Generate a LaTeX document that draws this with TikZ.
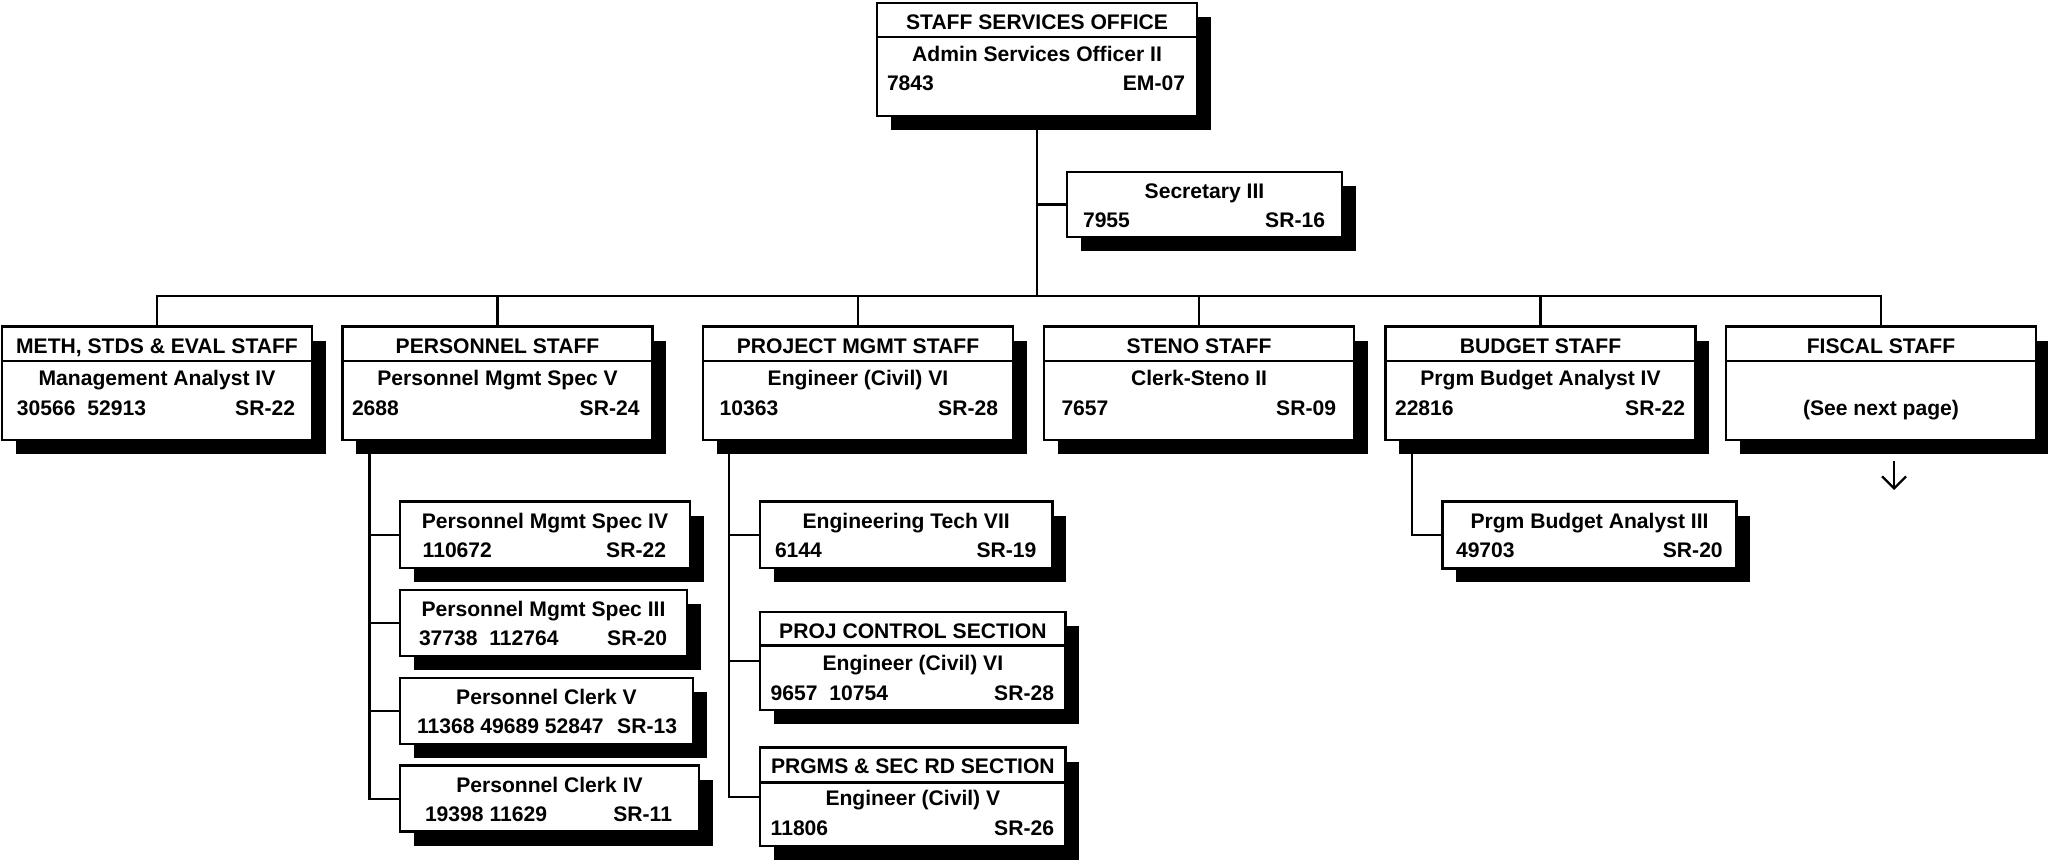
\documentclass[tikz,border=0pt]{standalone}
\usepackage{fontspec}
\setmainfont{Liberation Sans}
\usetikzlibrary{calc,shadows,arrows.meta}
\begin{document}
\begin{tikzpicture}[x=0.5pt,y=-0.5pt,
  box/.style={draw, line width=1.25pt, fill=white, inner sep=0pt, outer sep=0pt, anchor=north west,
     drop shadow={shadow xshift=6.75pt, shadow yshift=-7pt, opacity=1, fill=black}},
  txt/.style={font=\fontsize{10.55pt}{12pt}\selectfont\bfseries, inner sep=0pt, outer sep=0pt},
  ctr/.style={txt, anchor=base},
  lft/.style={txt, anchor=base west},
  rgt/.style={txt, anchor=base east},
  link/.style={line width=1.15pt},
  rule/.style={line width=1.25pt},
  hbox/.style={box, minimum width=155pt, minimum height=56.75pt},
]
\useasboundingbox (0,0) rectangle (2048,862);

% ---------- top ----------
\node[box, minimum width=160pt, minimum height=56.5pt] (top) at (877,3) {};
\draw[rule] ($(top.north west)+(0,34)$) -- ($(top.north east)+(0,34)$);
\node[ctr] (topH) at ($(top.north)+(0,26.5)$) {STAFF SERVICES OFFICE};
\node[ctr] (topT) at ($(top.north)+(0,58.3)$) {Admin Services Officer II};
\node[lft] (topL) at ($(top.north west)+(10,87.5)$) {7843};
\node[rgt] (topR) at ($(top.north east)+(-12,87.5)$) {EM-07};

\node[box, minimum width=137.5pt, minimum height=32.5pt] (sec) at (1067,172) {};
\node[ctr] (secT) at ($(sec.north)+(0,26)$) {Secretary III};
\node[lft] (secL) at ($(sec.north west)+(16,55)$) {7955};
\node[rgt] (secR) at ($(sec.north east)+(-17,55)$) {SR-16};

% ---------- row ----------
\node[hbox] (b1) at (2,326.5) {};
\node[hbox] (b2) at (342.5,326.5) {};
\node[hbox] (b3) at (703,326.5) {};
\node[hbox] (b4) at (1044,326.5) {};
\node[hbox] (b5) at (1385.5,326.5) {};
\node[hbox] (b6) at (1726,326.5) {};
\foreach \b in {b1,b2,b3,b4,b5,b6}
  \draw[rule] ($(\b.north west)+(0,34.5)$) -- ($(\b.north east)+(0,34.5)$);

\node[ctr] (b1H) at ($(b1.north)+(0,26.5)$) {METH, STDS \& EVAL STAFF};
\node[ctr] (b1T) at ($(b1.north)+(0,58.5)$) {Management Analyst IV};
\node[lft] (b1L) at ($(b1.north west)+(15,88.5)$) {30566\ \ 52913};
\node[rgt] (b1R) at ($(b1.north east)+(-17,88.5)$) {SR-22};

\node[ctr] (b2H) at ($(b2.north)+(0,26.5)$) {PERSONNEL STAFF};
\node[ctr] (b2T) at ($(b2.north)+(0,58.5)$) {Personnel Mgmt Spec V};
\node[lft] (b2L) at ($(b2.north west)+(9.5,88.5)$) {2688};
\node[rgt] (b2R) at ($(b2.north east)+(-13,88.5)$) {SR-24};

\node[ctr] (b3H) at ($(b3.north)+(0,26.5)$) {PROJECT MGMT STAFF};
\node[ctr] (b3T) at ($(b3.north)+(0,58.5)$) {Engineer (Civil) VI};
\node[lft] (b3L) at ($(b3.north west)+(16.6,88.5)$) {10363};
\node[rgt] (b3R) at ($(b3.north east)+(-15,88.5)$) {SR-28};

\node[ctr] (b4H) at ($(b4.north)+(0,26.5)$) {STENO STAFF};
\node[ctr] (b4T) at ($(b4.north)+(0,58.5)$) {Clerk-Steno II};
\node[lft] (b4L) at ($(b4.north west)+(17.5,88.5)$) {7657};
\node[rgt] (b4R) at ($(b4.north east)+(-18,88.5)$) {SR-09};

\node[ctr] (b5H) at ($(b5.north)+(0,26.5)$) {BUDGET STAFF};
\node[ctr] (b5T) at ($(b5.north)+(0,58.5)$) {Prgm Budget Analyst IV};
\node[lft] (b5L) at ($(b5.north west)+(9.5,88.5)$) {22816};
\node[rgt] (b5R) at ($(b5.north east)+(-10.5,88.5)$) {SR-22};

\node[ctr] (b6H) at ($(b6.north)+(0,26.5)$) {FISCAL STAFF};
\node[ctr] (b6T) at ($(b6.north)+(0,88.5)$) {(See next page)};

% ---------- personnel subs ----------
\node[box, minimum width=145pt, minimum height=33.15pt] (p1) at (400,501.7) {};
\node[ctr] (p1T) at ($(p1.north)+(0,26.6)$) {Personnel Mgmt Spec IV};
\node[lft] (p1L) at ($(p1.north west)+(22.7,55.6)$) {110672};
\node[rgt] (p1R) at ($(p1.north east)+(-24,55.6)$) {SR-22};

\node[box, minimum width=143.5pt, minimum height=33pt] (p2) at (400,590) {};
\node[ctr] (p2T) at ($(p2.north)+(0,26.6)$) {Personnel Mgmt Spec III};
\node[lft] (p2L) at ($(p2.north west)+(19,55.6)$) {37738\ \ 112764};
\node[rgt] (p2R) at ($(p2.north east)+(-20,55.6)$) {SR-20};

\node[box, minimum width=146.5pt, minimum height=33pt] (p3) at (400,678) {};
\node[ctr] (p3T) at ($(p3.north)+(0,26.6)$) {Personnel Clerk V};
\node[lft] (p3L) at ($(p3.north west)+(17,55.6)$) {11368 49689 52847};
\node[rgt] (p3R) at ($(p3.north east)+(-16,55.6)$) {SR-13};

\node[box, minimum width=149.5pt, minimum height=33pt] (p4) at (400,765.7) {};
\node[ctr] (p4T) at ($(p4.north)+(0,26.6)$) {Personnel Clerk IV};
\node[lft] (p4L) at ($(p4.north west)+(25,55.6)$) {19398 11629};
\node[rgt] (p4R) at ($(p4.north east)+(-27,55.6)$) {SR-11};

% ---------- project subs ----------
\node[box, minimum width=146.15pt, minimum height=33.15pt] (e1) at (760,501.7) {};
\node[ctr] (e1T) at ($(e1.north)+(0,26.6)$) {Engineering Tech VII};
\node[lft] (e1L) at ($(e1.north west)+(15,55.6)$) {6144};
\node[rgt] (e1R) at ($(e1.north east)+(-16,55.6)$) {SR-19};

\node[box, minimum width=152.85pt, minimum height=49pt] (e2) at (760,612) {};
\draw[rule] ($(e2.north west)+(0,33.7)$) -- ($(e2.north east)+(0,33.7)$);
\node[ctr] (e2H) at ($(e2.north)+(0,26.3)$) {PROJ CONTROL SECTION};
\node[ctr] (e2T) at ($(e2.north)+(0,58)$) {Engineer (Civil) VI};
\node[lft] (e2L) at ($(e2.north west)+(10.7,88)$) {9657\ \ 10754};
\node[rgt] (e2R) at ($(e2.north east)+(-11.7,88)$) {SR-28};

\node[box, minimum width=152.85pt, minimum height=49.15pt] (e3) at (760,747.7) {};
\draw[rule] ($(e3.north west)+(0,34.6)$) -- ($(e3.north east)+(0,34.6)$);
\node[ctr] (e3H) at ($(e3.north)+(0,25.6)$) {PRGMS \& SEC RD SECTION};
\node[ctr] (e3T) at ($(e3.north)+(0,58)$) {Engineer (Civil) V};
\node[lft] (e3L) at ($(e3.north west)+(10.7,88)$) {11806};
\node[rgt] (e3R) at ($(e3.north east)+(-11.7,88)$) {SR-26};

% ---------- budget sub ----------
\node[box, minimum width=147.2pt, minimum height=33.3pt] (g1) at (1442.3,501.7) {};
\node[ctr] (g1T) at ($(g1.north)+(0,26.6)$) {Prgm Budget Analyst III};
\node[lft] (g1L) at ($(g1.north west)+(13.7,55.6)$) {49703};
\node[rgt] (g1R) at ($(g1.north east)+(-14,55.6)$) {SR-20};

% ---------- connectors ----------
\coordinate (bus) at (1037,296);
\draw[link] (top.south) -- (bus);
\draw[link] (sec.west) -- (sec.west -| top.south);
\draw[link] (b1.north) |- (bus) -| (b6.north);
\foreach \b in {b2,b3,b4,b5}
  \draw[link] (\b.north) -- (\b.north |- bus);

\coordinate (pv) at ($(b2.south west)+(27,0)$);
\draw[link] (pv) |- (p4.west);
\foreach \b in {p1,p2,p3}
  \draw[link] (\b.west) -- (\b.west -| pv);

\coordinate (ev) at ($(b3.south west)+(26.3,0)$);
\draw[link] (ev) |- (e3.west);
\foreach \b in {e1,e2}
  \draw[link] (\b.west) -- (\b.west -| ev);

\coordinate (gv) at ($(b5.south west)+(26.5,0)$);
\draw[link] (gv) |- (g1.west);

\coordinate (arA) at (1894,461);
\coordinate (arB) at (1894,490);
\draw[link, -{Straight Barb[length=6pt, width=12pt]}] (arA) -- (arB);
\end{tikzpicture}
\end{document}
